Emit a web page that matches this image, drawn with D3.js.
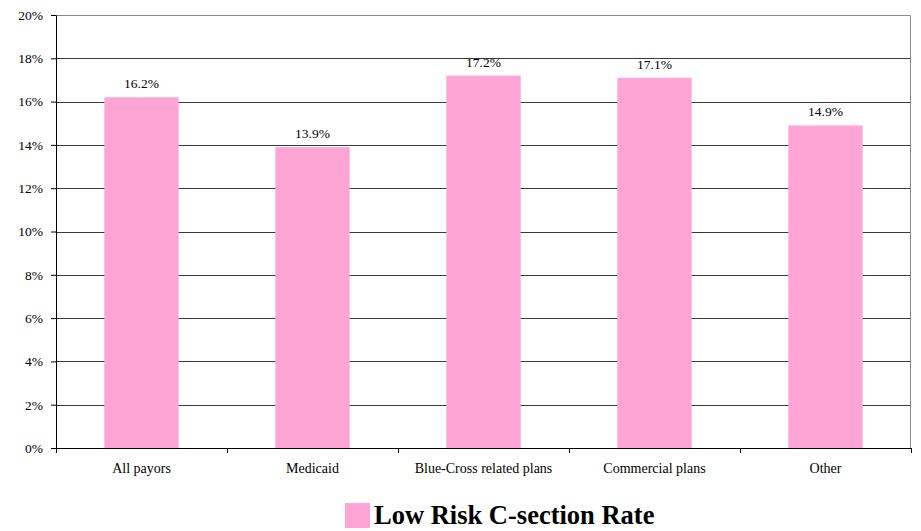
<!DOCTYPE html>
<html>
<head>
<meta charset="utf-8">
<script src="https://cdn.jsdelivr.net/npm/d3@7"></script>
<style>
  html, body { margin: 0; padding: 0; background: #fff; }
  svg { display: block; }
  svg text { font-family: "Liberation Serif", "Times New Roman", serif; fill: #000; }
</style>
</head>
<body>
<svg id="chart" width="921" height="531"></svg>
<script>
// Low risk C-section rate by payor
const categories = ["All payors", "Medicaid", "Blue-Cross related plans", "Commercial plans", "Other"];
const rates = [16.2, 13.9, 17.2, 17.1, 14.9];
const yTicks = [0, 2, 4, 6, 8, 10, 12, 14, 16, 18, 20];
const seriesName = "Low Risk C-section Rate";

const W = 921, H = 531;
const margin = { left: 56, right: 10, top: 15, bottom: 83 };
const plotW = W - margin.left - margin.right;
const plotH = H - margin.top - margin.bottom;
const barColor = "#FFA5D6";
const serif = "'Liberation Serif', 'Times New Roman', serif";

const svg = d3.select("#chart");
const g = svg.append("g").attr("transform", `translate(${margin.left},${margin.top})`);

const x = d3.scaleBand().domain(categories).range([0, plotW]).paddingInner(0.565).paddingOuter(0.2825);
const y = d3.scaleLinear().domain([0, 20]).range([plotH, 0]);

// horizontal gridlines
g.append("g").selectAll("line")
  .data(yTicks.filter(t => t > 0 && t < 20))
  .join("line")
  .attr("x1", 0).attr("x2", plotW)
  .attr("y1", d => Math.round(y(d)) + 0.5).attr("y2", d => Math.round(y(d)) + 0.5)
  .attr("stroke", "#3a3a3a").attr("stroke-width", 1);

// plot frame (top and right)
g.append("path")
  .attr("d", `M0.5,${0.5}H${plotW - 0.5}V${plotH}`)
  .attr("fill", "none").attr("stroke", "#8a8a8a").attr("stroke-width", 1);

// bars
g.append("g").selectAll("rect")
  .data(rates)
  .join("rect")
  .attr("x", (d, i) => x(categories[i]))
  .attr("width", x.bandwidth())
  .attr("y", d => y(d))
  .attr("height", d => plotH - y(d))
  .attr("fill", barColor);

// value labels
g.append("g").selectAll("text")
  .data(rates)
  .join("text")
  .attr("x", (d, i) => x(categories[i]) + x.bandwidth() / 2)
  .attr("y", d => y(d) - 9)
  .attr("text-anchor", "middle")
  .attr("font-family", serif)
  .attr("font-size", 13.5)
  .text(d => d.toFixed(1) + "%");

// y axis
const yAxis = d3.axisLeft(y).tickValues(yTicks).tickFormat(d => d + "%").tickSize(5).tickPadding(8);
const ya = g.append("g").call(yAxis).attr("font-family", serif).attr("font-size", 13.5);
ya.select(".domain").attr("stroke", "#000");
ya.selectAll(".tick line").attr("stroke", "#000");
ya.selectAll(".tick text").attr("fill", "#000");

// x axis baseline with ticks at category boundaries
const xa = g.append("g").attr("transform", `translate(0,${plotH})`);
xa.append("line").attr("x1", 0).attr("x2", plotW).attr("y1", 0.5).attr("y2", 0.5)
  .attr("stroke", "#000").attr("stroke-width", 1.2);
xa.selectAll("line.tk")
  .data(d3.range(categories.length + 1))
  .join("line").attr("class", "tk")
  .attr("x1", i => Math.round(i * plotW / categories.length) + 0.5)
  .attr("x2", i => Math.round(i * plotW / categories.length) + 0.5)
  .attr("y1", 0).attr("y2", 5)
  .attr("stroke", "#000");
xa.selectAll("text")
  .data(categories)
  .join("text")
  .attr("x", d => x(d) + x.bandwidth() / 2)
  .attr("y", 25)
  .attr("text-anchor", "middle")
  .attr("font-family", serif)
  .attr("font-size", 14)
  .text(d => d);

// legend
const lg = svg.append("g").attr("transform", "translate(345,503)");
lg.append("rect").attr("width", 25).attr("height", 25).attr("fill", barColor);
lg.append("text").attr("x", 29).attr("y", 21)
  .attr("font-family", serif)
  .attr("font-size", 26.5).attr("font-weight", "bold")
  .text(seriesName);
</script>
</body>
</html>
